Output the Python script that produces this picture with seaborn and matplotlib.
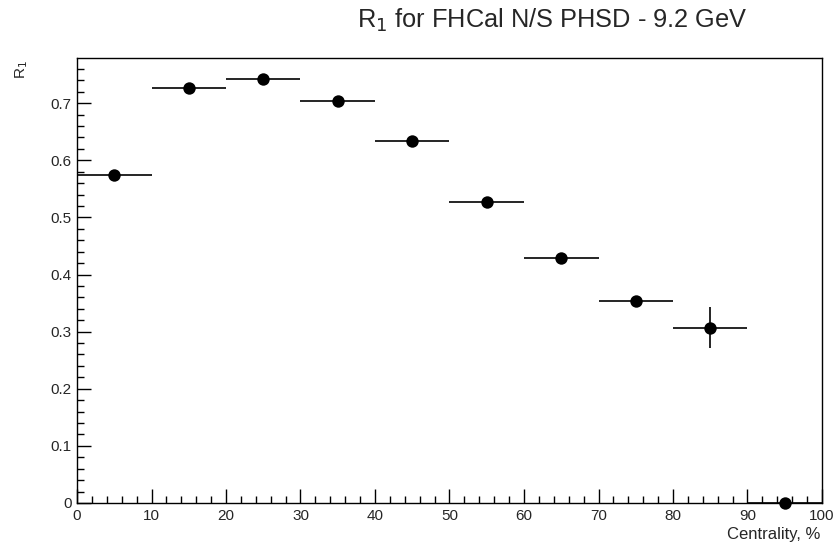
import matplotlib
matplotlib.use("Agg")
import matplotlib.pyplot as plt
from matplotlib.ticker import MultipleLocator
import seaborn as sns
import pandas as pd

centrality = [5, 15, 25, 35, 45, 55, 65, 75, 85, 95]
r1 = [0.574, 0.727, 0.742, 0.703, 0.633, 0.527, 0.429, 0.353, 0.307, 0.0]
r1_err = [0.004, 0.004, 0.004, 0.004, 0.004, 0.005, 0.006, 0.008, 0.036, 0.0]
x_halfwidth = [5] * 10

sns.set_style("ticks")
plt.rcParams['font.family'] = ['Liberation Sans', 'DejaVu Sans']

fig = plt.figure(figsize=(8.37, 5.43), dpi=100)
ax = fig.add_axes([77 / 837, 40 / 543, 745 / 837, 445 / 543])

df = pd.DataFrame({"c": centrality, "r": r1})
ax.errorbar(centrality, r1, xerr=x_halfwidth, yerr=r1_err, fmt='none',
            ecolor='black', elinewidth=1.2, capsize=0, zorder=2)
sns.scatterplot(data=df, x="c", y="r", ax=ax, color='black', s=80,
                edgecolor='black', linewidth=0, zorder=3, clip_on=False)

ax.xaxis.set_minor_locator(MultipleLocator(2))
ax.yaxis.set_minor_locator(MultipleLocator(0.02))
xt = list(range(0, 101, 10))
ax.set_xticks(xt)
ax.set_xticklabels([str(v) for v in xt])
yt = [0, 0.1, 0.2, 0.3, 0.4, 0.5, 0.6, 0.7]
ax.set_yticks(yt)
ax.set_yticklabels(["0"] + [f"{v:.1f}" for v in yt[1:]])
ax.set_xlim(0, 100)
ax.set_ylim(0, 0.779)

ax.tick_params(axis='both', which='major', direction='in', length=10, width=1,
               labelsize=11, color='black', pad=4)
ax.tick_params(axis='both', which='minor', direction='in', length=5, width=1,
               color='black')
for s in ax.spines.values():
    s.set_linewidth(1.0)
    s.set_color('black')

ax.set_xlabel("")
ax.set_ylabel("")
fig.text(820 / 837, 1 - 534 / 543, "Centrality, %", ha='right', va='center', fontsize=12)
fig.text(22 / 837, 1 - 70 / 543, "R$_1$", ha='center', va='center', rotation=90, fontsize=11)
fig.text(748 / 837, 1 - 20 / 543, "R$_1$ for FHCal N/S PHSD - 9.2 GeV", ha='right',
         va='center', fontsize=18.3)

fig.savefig("out.png", dpi=100)
